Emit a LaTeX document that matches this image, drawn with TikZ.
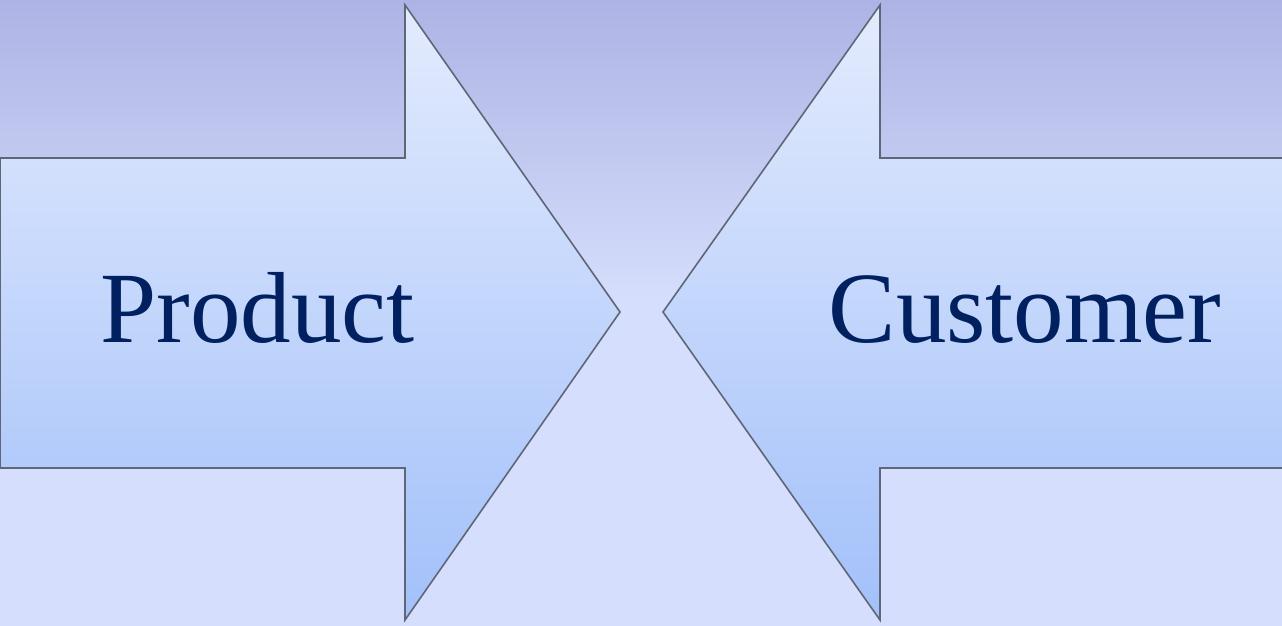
\documentclass[tikz,border=0pt]{standalone}
\usepackage{fontspec}
\setmainfont{Liberation Serif}
\definecolor{bgtop}{HTML}{ADB3E4}
\definecolor{bgbot}{HTML}{D5DEFC}
\definecolor{artop}{HTML}{E3EBFD}
\definecolor{arbot}{HTML}{A2C0FA}
\definecolor{edge}{HTML}{5F6676}
\definecolor{navy}{HTML}{002060}
\tikzset{
  arrowshape/.style={draw=edge, line width=1.6pt, line join=miter, top color=artop, bottom color=arbot},
  shadowshape/.style={fill=black, opacity=0.12},
  label/.style={inner sep=0pt, text=navy, font=\fontsize{101}{110}\selectfont}
}
\begin{document}
\begin{tikzpicture}[x=1pt,y=-1pt]
\useasboundingbox (0,0) rectangle (1282,626);
% background
\shade[top color=bgtop, bottom color=bgbot] (0,0) rectangle (1282,300);
\fill[bgbot] (0,299.5) rectangle (1282,626);
% left arrow coordinates
\coordinate (L1) at (0,158);
\coordinate (L2) at (405,158);
\coordinate (L3) at (405,5);
\coordinate (LT) at (620,312);
\coordinate (L4) at (405,620);
\coordinate (L5) at (405,468);
\coordinate (L6) at (0,468);
% right arrow coordinates
\coordinate (R1) at (1283,158);
\coordinate (R2) at (880,158);
\coordinate (R3) at (880,5);
\coordinate (RT) at (663,312);
\coordinate (R4) at (880,620);
\coordinate (R5) at (880,468);
\coordinate (R6) at (1283,468);
% shadows
\begin{scope}[shift={(2,3)}]
\fill[shadowshape] (L1) -- (L2) -- (L3) -- (LT) -- (L4) -- (L5) -- (L6) -- cycle;
\fill[shadowshape] (R1) -- (R2) -- (R3) -- (RT) -- (R4) -- (R5) -- (R6) -- cycle;
\end{scope}
% arrows
\path[arrowshape] (L1) -- (L2) -- (L3) -- (LT) -- (L4) -- (L5) -- (L6) -- cycle;
\path[arrowshape] (R1) -- (R2) -- (R3) -- (RT) -- (R4) -- (R5) -- (R6) -- cycle;
% labels
\node[label, anchor=base] (product) at (257.5,342) {Product};
\node[label, anchor=base] (customer) at (1025,342) {Customer};
\end{tikzpicture}
\end{document}
